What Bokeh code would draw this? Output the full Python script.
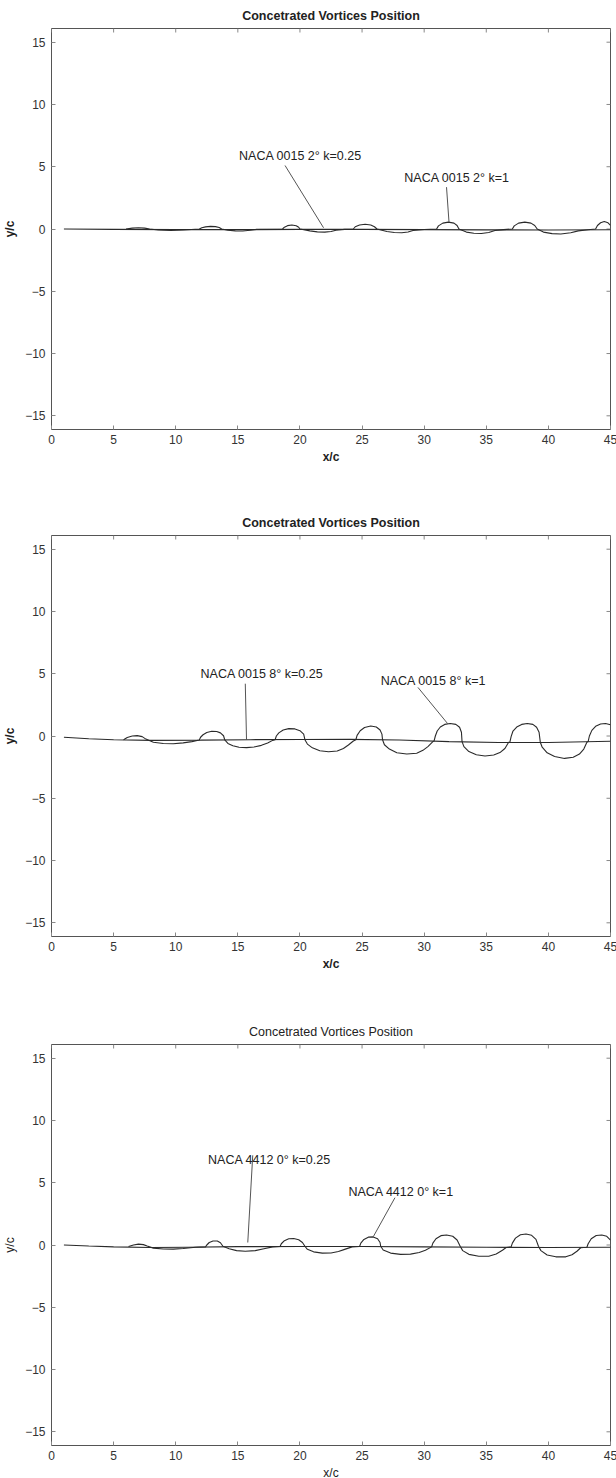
import math

from bokeh.plotting import figure
from bokeh.layouts import column
from bokeh.models import Range1d, FixedTicker
from bokeh.embed import file_html
from bokeh.resources import INLINE
from bokeh.core.properties import value

TITLE = "Concetrated Vortices Position"
X_TICKS = [0, 5, 10, 15, 20, 25, 30, 35, 40, 45]
Y_TICKS = [-15, -10, -5, 0, 5, 10, 15]
X_LIM = (0, 45)
Y_LIM = (-16.1, 16.1)

# ---- NACA 0015, 2 deg ----
a_slow_x = [1.0, 5.0, 10.0, 15.0, 20.0, 22.0, 25.0, 30.0, 35.0, 40.0, 45.0]
a_slow_y = [0.0, -0.03, -0.05, -0.05, -0.03, -0.03, -0.03, -0.05, -0.07, -0.08, -0.06]
a_fast_x = [6.0, 6.5, 7.0, 7.5, 7.9, 8.6, 9.6, 10.6, 11.9,
            12.1, 12.4, 12.8, 13.2, 13.5, 13.7,
            14.2, 14.8, 15.4, 16.0, 16.5, 17.5, 18.6,
            18.75, 19.0, 19.35, 19.7, 19.9, 20.0,
            20.8, 21.4, 22.0, 22.5, 22.9, 23.6, 24.3,
            24.45, 24.8, 25.25, 25.7, 26.0, 26.2,
            27.0, 27.6, 28.2, 28.7, 29.1, 30.0, 31.0,
            31.15, 31.5, 31.95, 32.4, 32.65, 32.8,
            33.4, 34.0, 34.6, 35.2, 35.7, 36.4, 37.1,
            37.25, 37.6, 38.1, 38.6, 38.9, 39.1,
            39.6, 40.3, 41.0, 41.8, 42.4, 43.2, 43.8,
            43.95, 44.2, 44.5, 44.8, 45.0]
a_fast_y = [0.0, 0.07, 0.1, 0.07, 0.0, -0.08, -0.12, -0.08, 0.0,
            0.1, 0.17, 0.21, 0.19, 0.12, 0.0,
            -0.1, -0.15, -0.16, -0.1, -0.03, -0.02, 0.0,
            0.15, 0.27, 0.32, 0.26, 0.14, 0.0,
            -0.15, -0.23, -0.25, -0.2, -0.1, -0.03, 0.0,
            0.18, 0.32, 0.38, 0.32, 0.18, 0.0,
            -0.2, -0.28, -0.3, -0.24, -0.12, -0.04, 0.0,
            0.25, 0.47, 0.55, 0.47, 0.28, 0.0,
            -0.25, -0.34, -0.36, -0.28, -0.12, -0.05, 0.0,
            0.25, 0.47, 0.55, 0.47, 0.28, 0.0,
            -0.25, -0.37, -0.4, -0.3, -0.15, -0.06, 0.0,
            0.28, 0.5, 0.6, 0.5, 0.3]
a_labels = ["NACA 0015 2\u00b0 k=0.25", "NACA 0015 2\u00b0 k=1"]

# ---- NACA 0015, 8 deg ----
b_slow_x = [1.0, 3.0, 5.0, 8.0, 12.0, 16.0, 20.0, 24.0, 28.0, 32.0, 36.0, 40.0, 45.0]
b_slow_y = [-0.1, -0.22, -0.3, -0.35, -0.33, -0.3, -0.28, -0.27, -0.32, -0.45, -0.52, -0.52, -0.42]
b_fast_x = [5.8, 6.1, 6.5, 6.9, 7.3, 7.6, 8.2, 9.0, 9.8, 10.6, 11.3, 11.9,
            12.0, 12.2, 12.5, 12.9, 13.3, 13.6, 13.85, 13.95,
            14.2, 14.6, 15.1, 15.7, 16.3, 16.9, 17.4, 17.8,
            18.0, 18.1, 18.3, 18.65, 19.1, 19.6, 20.0, 20.3, 20.4,
            20.6, 21.0, 21.6, 22.3, 23.0, 23.5, 23.9, 24.3,
            24.5, 24.6, 24.85, 25.2, 25.7, 26.15, 26.45, 26.6, 26.65,
            26.8, 27.2, 27.8, 28.6, 29.4, 29.9, 30.3, 30.7,
            30.8, 30.9, 31.05, 31.3, 31.65, 32.1, 32.55, 32.85, 33.0, 33.05,
            33.2, 33.6, 34.2, 34.9, 35.6, 36.1, 36.5, 36.8,
            36.9, 37.0, 37.15, 37.45, 37.85, 38.3, 38.75, 39.05, 39.25, 39.35,
            39.5, 39.9, 40.5, 41.3, 42.0, 42.5, 42.85, 43.1,
            43.2, 43.3, 43.5, 43.8, 44.2, 44.6, 45.0]
b_fast_y = [-0.3, -0.12, 0.0, 0.03, -0.05, -0.25, -0.5, -0.6, -0.62, -0.55, -0.45, -0.32,
            -0.1, 0.1, 0.28, 0.38, 0.36, 0.25, 0.02, -0.32,
            -0.6, -0.78, -0.9, -0.93, -0.88, -0.75, -0.57, -0.35,
            -0.3, 0.0, 0.25, 0.48, 0.59, 0.57, 0.43, 0.15, -0.3,
            -0.65, -0.95, -1.18, -1.27, -1.2, -1.0, -0.72, -0.4,
            -0.3, 0.05, 0.42, 0.68, 0.8, 0.72, 0.48, 0.15, -0.3,
            -0.7, -1.05, -1.35, -1.45, -1.38, -1.15, -0.85, -0.45,
            -0.4, 0.0, 0.4, 0.72, 0.93, 1.0, 0.93, 0.7, 0.3, -0.45,
            -0.85, -1.25, -1.5, -1.6, -1.53, -1.33, -1.0, -0.5,
            -0.5, -0.05, 0.4, 0.72, 0.93, 1.0, 0.93, 0.7, 0.3, -0.5,
            -0.9, -1.35, -1.65, -1.8, -1.7, -1.45, -1.05, -0.5,
            -0.45, 0.0, 0.45, 0.78, 0.96, 1.0, 0.9]
b_labels = ["NACA 0015 8\u00b0 k=0.25", "NACA 0015 8\u00b0 k=1"]

# ---- NACA 4412, 0 deg ----
c_slow_x = [1.0, 3.0, 5.0, 8.0, 11.0, 15.0, 20.0, 25.0, 30.0, 35.0, 40.0, 45.0]
c_slow_y = [0.0, -0.08, -0.15, -0.2, -0.18, -0.13, -0.12, -0.12, -0.15, -0.18, -0.2, -0.18]
c_fast_x = [6.2, 6.6, 7.0, 7.4, 7.7, 8.2, 9.0, 9.8, 10.6, 11.6, 12.4,
            12.5, 12.7, 13.0, 13.35, 13.6, 13.8,
            14.3, 14.9, 15.6, 16.4, 17.1, 17.8, 18.4,
            18.5, 18.75, 19.1, 19.5, 19.9, 20.2, 20.4,
            20.6, 21.1, 21.8, 22.5, 23.1, 23.6, 24.2, 24.8,
            24.9, 25.15, 25.5, 25.9, 26.25, 26.45, 26.5,
            26.7, 27.3, 28.1, 28.9, 29.6, 30.1, 30.6,
            30.7, 30.95, 31.35, 31.8, 32.3, 32.65, 32.9,
            33.1, 33.6, 34.4, 35.2, 35.8, 36.3, 36.6, 37.0,
            37.1, 37.35, 37.75, 38.2, 38.65, 39.0, 39.2,
            39.4, 39.9, 40.6, 41.4, 41.9, 42.3, 42.6, 43.1,
            43.2, 43.45, 43.85, 44.3, 44.7, 45.0]
c_fast_y = [-0.12, 0.0, 0.07, 0.03, -0.08, -0.25, -0.32, -0.33, -0.28, -0.18, -0.15,
            0.0, 0.2, 0.32, 0.32, 0.18, -0.1,
            -0.3, -0.45, -0.5, -0.45, -0.3, -0.15, -0.12,
            0.1, 0.35, 0.5, 0.52, 0.42, 0.2, -0.1,
            -0.35, -0.55, -0.65, -0.64, -0.52, -0.35, -0.15, -0.12,
            0.15, 0.45, 0.63, 0.65, 0.5, 0.2, -0.1,
            -0.4, -0.65, -0.75, -0.73, -0.6, -0.42, -0.15,
            0.15, 0.5, 0.75, 0.8, 0.7, 0.4, -0.1,
            -0.45, -0.75, -0.9, -0.9, -0.72, -0.42, -0.2, -0.15,
            0.15, 0.55, 0.82, 0.88, 0.78, 0.45, -0.1,
            -0.45, -0.8, -0.95, -0.95, -0.78, -0.5, -0.22, -0.18,
            0.1, 0.5, 0.76, 0.8, 0.7, 0.4]
c_labels = ["NACA 4412 0\u00b0 k=0.25", "NACA 4412 0\u00b0 k=1"]

FONT = "Liberation Sans"
INK = "#2a2a2a"
TICK = "#888888"


def panel(slow_x, slow_y, fast_x, fast_y, labels, label_xy, leaders,
          bottom, bold_title=True):
    p = figure(frame_width=559, frame_height=401,
               x_range=Range1d(*X_LIM), y_range=Range1d(*Y_LIM),
               output_backend="svg", toolbar_location=None,
               min_border_left=48, min_border_right=9,
               min_border_top=28, min_border_bottom=bottom,
               background_fill_color="white", border_fill_color="white",
               outline_line_color="#555555", outline_line_width=1)
    p.xgrid.visible = False
    p.ygrid.visible = False

    p.title.text = TITLE
    p.title.align = "center"
    p.title.text_font = FONT
    p.title.text_font_size = "12.5px"
    p.title.text_font_style = "bold" if bold_title else "normal"
    p.title.text_color = "#222222"
    p.title.standoff = 11

    for ax, ticks in ((p.xaxis[0], X_TICKS), (p.yaxis[0], Y_TICKS)):
        ax.ticker = FixedTicker(ticks=ticks)
        ax.major_tick_in = 4
        ax.major_tick_out = 0
        ax.major_tick_line_color = TICK
        ax.minor_tick_line_color = None
        ax.axis_line_color = None
        ax.major_label_text_font = FONT
        ax.major_label_text_font_size = "12px"
        ax.major_label_text_color = "#333333"
        ax.axis_label_text_font = FONT
        ax.axis_label_text_font_size = "12px"
        ax.axis_label_text_font_style = "bold" if bold_title else "normal"
        ax.axis_label_text_color = "#222222"
    p.xaxis.axis_label = "x/c"
    p.yaxis.axis_label = "y/c"
    p.xaxis.major_label_standoff = 5
    p.xaxis.axis_label_standoff = 3
    p.yaxis.major_label_standoff = 6
    p.yaxis.axis_label_standoff = 5

    # tick marks mirrored on the top and right edges of the box
    p.ray(x=X_TICKS, y=[Y_LIM[1]] * len(X_TICKS), length=4,
          length_units="screen", angle=-math.pi / 2,
          line_color=TICK, line_width=1)
    p.ray(x=[X_LIM[1]] * len(Y_TICKS), y=Y_TICKS, length=4,
          length_units="screen", angle=math.pi,
          line_color=TICK, line_width=1)

    # wake traces
    p.line(slow_x, slow_y, line_color=INK, line_width=1.2)
    p.line(fast_x, fast_y, line_color=INK, line_width=1.1)

    # annotations with leader lines
    p.segment(x0=[l[0] for l in leaders], y0=[l[1] for l in leaders],
              x1=[l[2] for l in leaders], y1=[l[3] for l in leaders],
              line_color="#555555", line_width=1)
    p.text(x=[xy[0] for xy in label_xy], y=[xy[1] for xy in label_xy],
           text=labels, text_font=value(FONT), text_font_size="12.5px",
           text_color="#222222", text_align="left", text_baseline="middle")
    return p


p1 = panel(a_slow_x, a_slow_y, a_fast_x, a_fast_y, a_labels,
           [(15.1, 5.9), (28.4, 4.06)],
           [(18.8, 5.1, 21.9, 0.1), (31.8, 3.36, 32.0, 0.55)],
           bottom=78)
p2 = panel(b_slow_x, b_slow_y, b_fast_x, b_fast_y, b_labels,
           [(12.0, 5.0), (26.5, 4.4)],
           [(15.6, 4.2, 15.7, -0.32), (29.5, 3.9, 31.9, 0.98)],
           bottom=80)
p3 = panel(c_slow_x, c_slow_y, c_fast_x, c_fast_y, c_labels,
           [(12.6, 6.86), (23.9, 4.26)],
           [(16.2, 7.2, 15.8, 0.2), (27.65, 3.8, 25.9, 0.66)],
           bottom=33, bold_title=False)

layout = column(p1, p2, p3, spacing=0)
open("out.html", "w").write(file_html(layout, INLINE))
